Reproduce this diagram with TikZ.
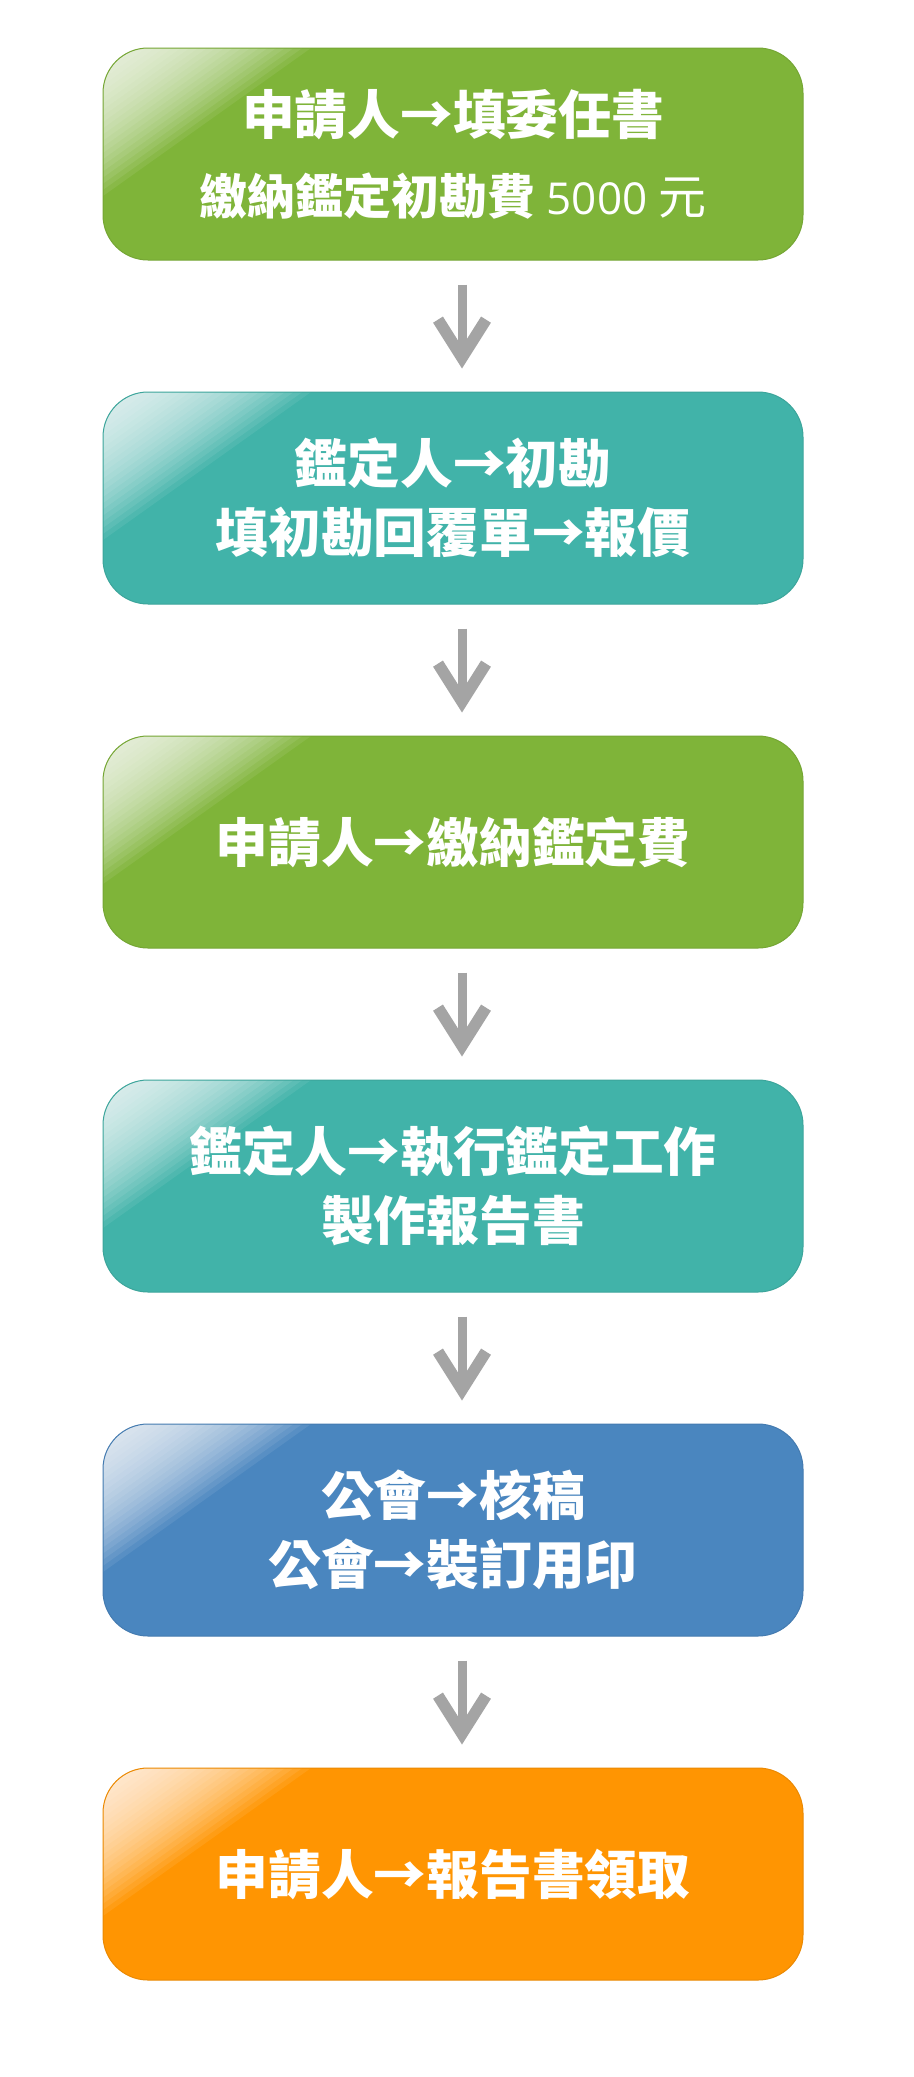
\documentclass[tikz,border=0pt]{standalone}
\usepackage{fontspec}
\newfontfamily\cjk{Noto Sans CJK TC}
\newfontfamily\digitfont{Open Sans}
\usepackage{tikz}
\usetikzlibrary{arrows.meta,positioning}
\definecolor{StepGreen}{HTML}{7FB439}
\definecolor{StepTeal}{HTML}{41B3A9}
\definecolor{StepBlue}{HTML}{4A86BF}
\definecolor{StepOrange}{HTML}{FF9502}
\definecolor{ArrowGrey}{HTML}{A4A4A4}
\newcommand\PageWidth{457pt}
\newcommand\PageHeight{1038.5pt}
\newcommand\BoxWidth{350pt}
\newcommand\BoxHeight{106pt}
\newcommand\Radius{22.5pt}
\newcommand\Center{226.5pt}
\newcommand\Top{77pt}
\newcommand\Period{172pt}
\newcommand\GlossX{104pt}
\newcommand\GlossY{74pt}
\newcommand\Shift{4.5pt}
\tikzstyle{stepbox}=[rectangle,rounded corners=\Radius,text=white,align=center,
                     minimum height=\BoxHeight,minimum width=\BoxWidth,
                     font=\cjk\bfseries\fontsize{26.35pt}{34.5pt}\selectfont]
% gloss in the top left corner: stacked see-through triangles
\tikzset{glossy/.style={fill=#1,draw=#1!92!black,line width=0.5pt,path picture={
  \foreach \k in {1,...,24}
    \fill[white,opacity=0.08,sharp corners] (path picture bounding box.north west)
      -- ++(\GlossX*\k/24,0) -- ++(-\GlossX*\k/24,-\GlossY*\k/24) -- cycle;}}}
\tikzstyle{flow}=[ArrowGrey,line width=4.5pt,shorten <=12pt,shorten >=11.5pt,
                  -{Straight Barb[length=19pt,width=24pt,line width=5.8pt]}]
\begin{document}
\begin{tikzpicture}
      \path[use as bounding box,fill=white] (0,0) rectangle (\PageWidth,-\PageHeight);
      \node[stepbox,glossy=StepGreen] (s1) at (\Center,-\Top-\Period*0) {申請人→填委任書\\[5.5pt]{\fontsize{24pt}{30pt}\selectfont 繳納鑑定初勘費}{\mdseries\digitfont\fontsize{22pt}{30pt}\selectfont\ 5000\ }{\mdseries\fontsize{24pt}{30pt}\selectfont 元}};
      \node[stepbox,glossy=StepTeal] (s2) at (\Center,-\Top-\Period*1) {鑑定人→初勘\\填初勘回覆單→報價};
      \node[stepbox,glossy=StepGreen] (s3) at (\Center,-\Top-\Period*2) {申請人→繳納鑑定費};
      \node[stepbox,glossy=StepTeal] (s4) at (\Center,-\Top-\Period*3) {鑑定人→執行鑑定工作\\製作報告書};
      \node[stepbox,glossy=StepBlue] (s5) at (\Center,-\Top-\Period*4) {公會→核稿\\公會→裝訂用印};
      \node[stepbox,glossy=StepOrange] (s6) at (\Center,-\Top-\Period*5) {申請人→報告書領取};
      \draw[flow] ([xshift=\Shift]s1.south) -- ([xshift=\Shift]s2.north);
      \draw[flow] ([xshift=\Shift]s2.south) -- ([xshift=\Shift]s3.north);
      \draw[flow] ([xshift=\Shift]s3.south) -- ([xshift=\Shift]s4.north);
      \draw[flow] ([xshift=\Shift]s4.south) -- ([xshift=\Shift]s5.north);
      \draw[flow] ([xshift=\Shift]s5.south) -- ([xshift=\Shift]s6.north);
   \end{tikzpicture}
\end{document}
